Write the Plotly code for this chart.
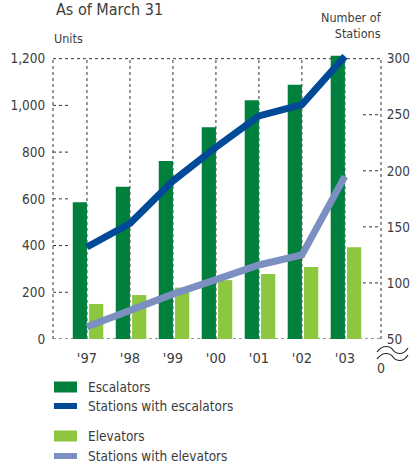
import plotly.graph_objects as go

years = ["'97", "'98", "'99", "'00", "'01", "'02", "'03"]
escalators = [585, 652, 762, 906, 1022, 1088, 1212]
elevators = [150, 188, 220, 252, 278, 308, 393]
stations_esc = [132, 153, 191, 221, 249, 259, 302]
stations_elev = [61, 76, 90, 103, 116, 125, 195]

left_ticks = [0, 200, 400, 600, 800, 1000, 1200]
right_ticks = [50, 100, 150, 200, 250, 300]

C_ESC = "#00803c"
C_ELEV = "#8dc63f"
C_SESC = "#004a97"
C_SELEV = "#7b8fc0"
TXT = "#3c3c3c"
FONT = "Liberation Sans Narrow, DejaVu Sans Condensed, sans-serif"

W, H = 415, 465
L, R, T, B = 53, 34, 54, 126
PW = W - L - R
PH = H - T - B

def pxx(x):
    return (x - L) / PW

def pxy(y):
    return (H - B - y) / PH

xs = list(range(len(years)))

fig = go.Figure()
fig.add_trace(go.Bar(x=xs, y=escalators, name="Escalators", marker_color=C_ESC,
                     width=0.33, offset=-0.33, marker_line_width=0))
fig.add_trace(go.Bar(x=xs, y=elevators, name="Elevators", marker_color=C_ELEV,
                     width=0.33, offset=0.05, marker_line_width=0))
fig.add_trace(go.Scatter(x=xs, y=stations_esc, name="Stations with escalators", mode="lines",
                         line=dict(color=C_SESC, width=7), yaxis="y2"))
fig.add_trace(go.Scatter(x=xs, y=stations_elev, name="Stations with elevators", mode="lines",
                         line=dict(color=C_SELEV, width=7), yaxis="y2"))

ymax = 1220
y2max = 50 + ymax / 1200 * 250

dash = dict(color="#333333", width=1, dash="3px,3px")
shapes = []
shapes.append(dict(type="line", xref="paper", yref="y", x0=0, x1=1, y0=1200, y1=1200, line=dash, layer="below"))
shapes.append(dict(type="line", xref="paper", yref="y", x0=0, x1=1, y0=0, y1=0, line=dash, layer="below"))
shapes.append(dict(type="line", xref="paper", yref="y", x0=0, x1=0, y0=0, y1=1200, line=dash, layer="below"))
shapes.append(dict(type="line", xref="paper", yref="y", x0=1, x1=1, y0=0, y1=1200, line=dash, layer="below"))
for x in xs:
    shapes.append(dict(type="line", xref="x", yref="y", x0=x, x1=x, y0=0, y1=1200, line=dash, layer="below"))
for v in left_ticks[1:-1]:
    shapes.append(dict(type="line", xref="paper", yref="y", x0=0, x1=17 / PW, y0=v, y1=v, line=dash, layer="below"))
for v in right_ticks[1:-1]:
    shapes.append(dict(type="line", xref="paper", yref="y2", x0=1 - 18 / PW, x1=1, y0=v, y1=v, line=dash, layer="below"))

def wave(y0):
    pts = [(377, y0 + 2), (383, y0 - 6), (390, y0 - 4), (393, y0), (396, y0 + 4), (403, y0 + 6), (408, y0 - 2)]
    p = [(pxx(a), pxy(b)) for a, b in pts]
    return ("M{0},{1} C{2},{3} {4},{5} {6},{7} C{8},{9} {10},{11} {12},{13}".format(
        *[c for pt in p for c in pt]))

for y0 in (350, 357):
    shapes.append(dict(type="path", xref="paper", yref="paper", path=wave(y0),
                       line=dict(color="#222222", width=1.2)))

annotations = [
    dict(text="As of March 31", x=pxx(54), y=pxy(9.5), xref="paper", yref="paper",
         xanchor="left", yanchor="middle", showarrow=False, font=dict(size=16, color=TXT)),
    dict(text="Units", x=pxx(52), y=pxy(38), xref="paper", yref="paper",
         xanchor="left", yanchor="middle", showarrow=False, font=dict(size=12.5, color=TXT)),
    dict(text="Number of<br>Stations", x=pxx(384), y=pxy(26), xref="paper", yref="paper",
         xanchor="right", yanchor="middle", align="right", showarrow=False,
         font=dict(size=12.5, color=TXT)),
    dict(text="0", x=pxx(381), y=pxy(368), xref="paper", yref="paper",
         xanchor="center", yanchor="middle", showarrow=False, font=dict(size=14, color=TXT)),
]

leg = [
    ("bar", C_ESC, fig.data[0].name, 387),
    ("line", C_SESC, fig.data[2].name, 406),
    ("bar", C_ELEV, fig.data[1].name, 436),
    ("line", C_SELEV, fig.data[3].name, 456),
]
for kind, col, name, yc in leg:
    hh = 5.5 if kind == "bar" else 3
    shapes.append(dict(type="rect", xref="paper", yref="paper", x0=pxx(54), x1=pxx(77),
                       y0=pxy(yc + hh), y1=pxy(yc - hh), fillcolor=col, line=dict(width=0)))
    annotations.append(dict(text=name, x=pxx(86), y=pxy(yc), xref="paper", yref="paper",
                            xanchor="left", yanchor="middle", showarrow=False,
                            font=dict(size=13.5, color=TXT)))

fig.update_layout(
    width=W, height=H,
    margin=dict(l=L, r=R, t=T, b=B),
    paper_bgcolor="white", plot_bgcolor="white",
    barmode="overlay",
    showlegend=False,
    font=dict(family=FONT, color=TXT, size=14),
    xaxis=dict(range=[-0.79, 6.84], tickmode="array", tickvals=xs, ticktext=years,
               showgrid=False, zeroline=False, showline=False, automargin=False,
               ticks="outside", ticklen=6, tickcolor="rgba(0,0,0,0)",
               tickfont=dict(size=14.5, color=TXT)),
    yaxis=dict(range=[0, ymax], tickmode="array", tickvals=left_ticks,
               ticktext=[f"{v:,}" for v in left_ticks],
               showgrid=False, zeroline=False, showline=False, automargin=False,
               ticks="outside", ticklen=4, tickcolor="rgba(0,0,0,0)",
               tickfont=dict(size=13.5, color=TXT)),
    yaxis2=dict(range=[50, y2max], overlaying="y", side="right", tickmode="array",
                tickvals=right_ticks, ticktext=[str(v) for v in right_ticks],
                showgrid=False, zeroline=False, showline=False, automargin=False,
                ticks="outside", ticklen=2, tickcolor="rgba(0,0,0,0)",
                tickfont=dict(size=13.5, color=TXT)),
    shapes=shapes,
    annotations=annotations,
)

fig.write_html(
    "out.html",
    config={"responsive": False, "displayModeBar": False},
    post_script="document.documentElement.style.overflow='hidden';"
                "document.body.style.margin='0';document.body.style.overflow='hidden';",
)
